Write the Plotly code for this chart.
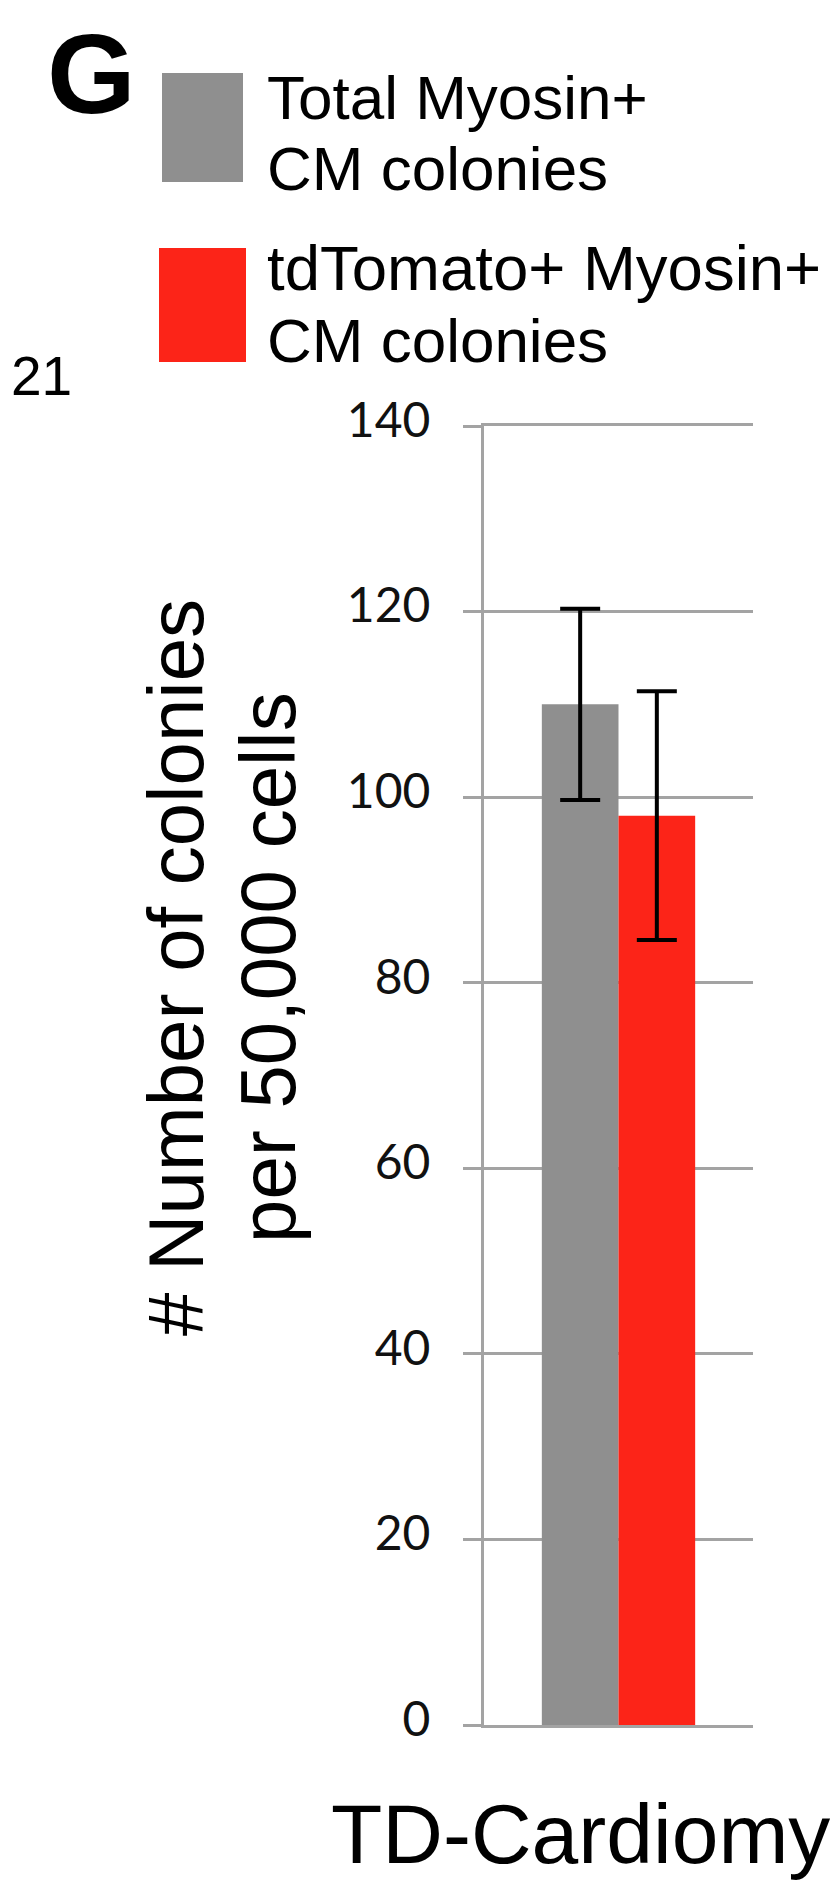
import plotly.graph_objects as go

# ---- data ----
categories = ["TD-Cardiomyocytes"]
series_names = ["Total Myosin+ CM colonies", "tdTomato+ Myosin+ CM colonies"]
total_values = [110.0]
total_errors = [10.3]
tdtomato_values = [98.0]
tdtomato_errors = [13.4]
y_ticks = [0, 20, 40, 60, 80, 100, 120, 140]

# ---- layout geometry ----
# the page body has an 8px margin, so the figure is sized to fit the 839x1883 window
OFF = 8
W, H = 839 - OFF, 1883 - OFF
PL, PR, PT, PB = 484, 753, 426, 1725  # plot area edges in page pixels


def px(x):
    return (x - PL) / (PR - PL)


def py(y):
    return (PB - y) / (PB - PT)


GRAY = "#8f8f8f"
RED = "#fc2418"
GRID = "#a3a3a3"
ARIAL = "Liberation Sans, Arial, sans-serif"

fig = go.Figure()
fig.add_trace(go.Bar(
    x=categories, y=total_values, name=series_names[0],
    marker=dict(color=GRAY, line=dict(width=0)),
    error_y=dict(type="data", array=total_errors, color="black", thickness=4, width=20),
))
fig.add_trace(go.Bar(
    x=categories, y=tdtomato_values, name=series_names[1],
    marker=dict(color=RED, line=dict(width=0)),
    error_y=dict(type="data", array=tdtomato_errors, color="black", thickness=4, width=20),
))

shapes = [
    dict(type="rect", xref="paper", yref="paper",
         x0=px(162), x1=px(243), y0=py(182), y1=py(73),
         fillcolor=GRAY, line=dict(width=0)),
    dict(type="rect", xref="paper", yref="paper",
         x0=px(159), x1=px(246), y0=py(362), y1=py(248),
         fillcolor=RED, line=dict(width=0)),
]


def ann(text, x, y, size, family=ARIAL, xanchor="left", angle=0, bold=False):
    t = f"<b>{text}</b>" if bold else text
    return dict(text=t, xref="paper", yref="paper", x=px(x), y=py(y),
                xanchor=xanchor, yanchor="middle", showarrow=False, borderpad=0,
                textangle=angle, font=dict(family=family, size=size, color="black"))


annotations = [
    ann("G", 91, 73, 114, xanchor="center", bold=True),
    ann("Total Myosin+", 266, 97.5, 62),
    ann("CM colonies", 266, 168.5, 62),
    ann("tdTomato+ Myosin+", 266, 268, 63.5),
    ann("CM colonies", 266, 340.5, 62),
    ann("21", 10, 376, 55),
    ann("# Number of colonies", 176, 968, 78, xanchor="center", angle=-90),
    ann("per 50,000 cells", 268, 968, 78, xanchor="center", angle=-90),
    ann("TD-Cardiomyocytes", 330, 1834, 84),
]

fig.update_layout(
    width=W, height=H,
    margin=dict(l=PL - OFF, r=W - (PR - OFF), t=PT - OFF, b=H - (PB - OFF), pad=0),
    paper_bgcolor="white", plot_bgcolor="white",
    barmode="group", bargap=0.43, bargroupgap=0,
    showlegend=False,
    shapes=shapes, annotations=annotations,
    xaxis=dict(showticklabels=False, ticks="", showgrid=False, zeroline=False,
               showline=True, mirror=True, linecolor=GRID, linewidth=3),
    yaxis=dict(range=[0, 140], tickvals=y_ticks, showgrid=True, gridcolor=GRID,
               gridwidth=3, zeroline=False, showline=True, linecolor=GRID, linewidth=3,
               ticks="outside", ticklen=18, tickwidth=3, tickcolor=GRID,
               ticklabelstandoff=23, ticklabelshift=-6,
               tickfont=dict(family="Lato, sans-serif", size=48, color="#111111")),
)

fig.write_html("out.html")
